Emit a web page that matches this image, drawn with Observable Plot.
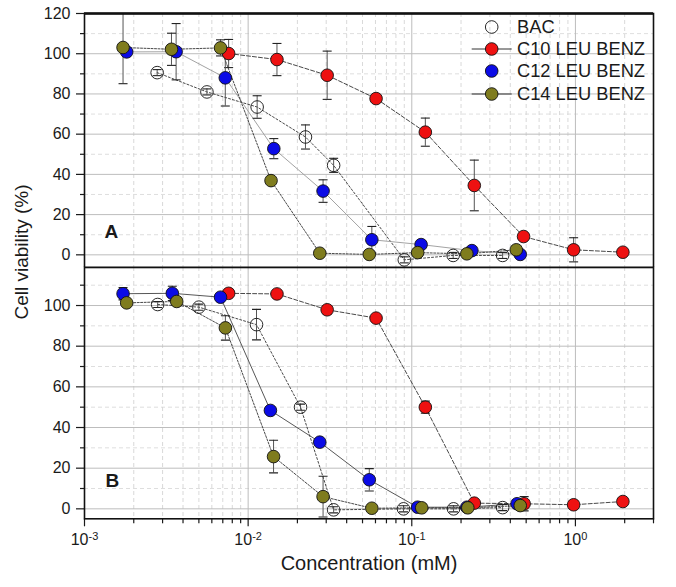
<!DOCTYPE html>
<html><head><meta charset="utf-8">
<script src="https://cdn.jsdelivr.net/npm/d3@7"></script>
<script src="https://cdn.jsdelivr.net/npm/@observablehq/plot@0.6"></script>
<style>
body{margin:0;background:#fff;font-family:"Liberation Sans",Arial,sans-serif;color:#1a1a1a}
#wrap{position:relative;width:676px;height:587px}
#wrap svg{display:block}
.ylab{position:absolute;left:21.7px;top:252px;transform:translate(-50%,-50%) rotate(-90deg);white-space:nowrap;font-size:19px}
.legend{position:absolute;left:462px;top:15.5px;font-size:18.3px}
.legend .row{display:flex;align-items:center;height:22.4px}
</style></head>
<body><div id="wrap"></div>
<script>
// ---------- data ----------
const seriesNames = ["BAC", "C10 LEU BENZ", "C12 LEU BENZ", "C14 LEU BENZ"];
const seriesFills = ["none", "#ee1111", "#0b0be6", "#7f7c1e"];
const seriesDash = ["2,2", "4,2", null, "2,1.5"];
const seriesLineColorA = ["#333", "#333", "#999", "#333"];
const seriesLineColorB = ["#333", "#333", "#444", "#333"];
const legendLine = [false, true, false, true];

// Panel A
const concA_BAC = [0.00278, 0.0056, 0.01135, 0.0224, 0.0333, 0.090, 0.179, 0.359];
const viabA_BAC = [90.6, 81, 73.5, 58.6, 44.5, -2.5, -0.3, -0.3];
const errA_BAC  = [1.5, 1.5, 5.6, 6, 3.5, 1.5, 1.5, 1.5];

const concA_C10 = [0.0076, 0.0150, 0.0304, 0.0605, 0.121, 0.241, 0.482, 0.975, 1.95];
const viabA_C10 = [100.1, 97.1, 89.3, 77.7, 61, 34.5, 9.1, 2.5, 1.3];
const errA_C10  = [7, 8, 12, 1, 7, 12.6, 1, 6, 1];

const concA_C12 = [0.00181, 0.00363, 0.00725, 0.01435, 0.0287, 0.057, 0.114, 0.233, 0.46];
const viabA_C12 = [100.9, 101, 88, 52.8, 31.7, 7.5, 5.1, 2.1, 0.2];
const errA_C12  = [2, 14, 14, 5, 5.6, 6.6, 1, 1, 1];

const concA_C14 = [0.00172, 0.0034, 0.00678, 0.0138, 0.0274, 0.055, 0.1086, 0.217, 0.435];
const viabA_C14 = [103.1, 102.2, 102.9, 36.9, 0.8, 0.2, 1.1, 0.5, 2.5];
const errA_C14  = [18, 8, 4, 1, 1, 1, 1, 1, 1.5];

// Panel B
const concB_BAC = [0.0028, 0.005, 0.01125, 0.0209, 0.0333, 0.089, 0.18, 0.359];
const viabB_BAC = [100.5, 99.2, 90.6, 50, -0.5, 0, 0, 0.6];
const errB_BAC  = [1.5, 1.5, 7.5, 1.5, 1.5, 1.5, 1.5, 1.5];

const concB_C10 = [0.0076, 0.0150, 0.0304, 0.0605, 0.121, 0.241, 0.486, 0.975, 1.95];
const viabB_C10 = [106, 105.7, 97.9, 93.8, 50, 2.8, 2.5, 2, 3.6];
const errB_C10  = [1, 1, 2, 1, 3, 1, 3.5, 1, 1];

const concB_C12 = [0.00172, 0.00344, 0.00678, 0.01368, 0.0274, 0.055, 0.1086, 0.217, 0.44];
const viabB_C12 = [105.8, 106, 104.1, 48.4, 32.8, 14.3, 0.8, 0.8, 2.5];
const errB_C12  = [3, 3.5, 1, 1, 1, 5.5, 1, 1, 1];

const concB_C14 = [0.00181, 0.00366, 0.00726, 0.0143, 0.0287, 0.057, 0.115, 0.22, 0.46];
const viabB_C14 = [101.3, 102, 89, 25.7, 6, 0.3, 0.5, 0.5, 1.6];
const errB_C14  = [1, 2, 6, 8, 10, 1, 1, 1, 1];

// axis ticks
const xDomain = [0.001, 3];
const xMajorTicks = [0.001, 0.01, 0.1, 1];
const xMinorMultipliers = [2, 3, 4, 5, 6, 7, 8, 9];
const yMajorTicksA = [0, 20, 40, 60, 80, 100, 120];
const yMinorTicksA = [10, 30, 50, 70, 90, 110];
const yMajorTicksB = [0, 20, 40, 60, 80, 100];
const yMinorTicksB = [10, 30, 50, 70, 90, 110];
const yDomainA = [-6.3, 120];
const yDomainB = [-4.9, 118.7];

// ---------- build ----------
const xMinorTicks = [];
for (const d of xMajorTicks) for (const m of xMinorMultipliers) { const v = d * m; if (v <= xDomain[1]) xMinorTicks.push(v); }

function rows(name, c, v, e) { return c.map((x, i) => ({s: name, c: x, v: v[i], e: e[i]})); }
const panelA = [
  rows(seriesNames[0], concA_BAC, viabA_BAC, errA_BAC),
  rows(seriesNames[1], concA_C10, viabA_C10, errA_C10),
  rows(seriesNames[2], concA_C12, viabA_C12, errA_C12),
  rows(seriesNames[3], concA_C14, viabA_C14, errA_C14)
];
const panelB = [
  rows(seriesNames[0], concB_BAC, viabB_BAC, errB_BAC),
  rows(seriesNames[1], concB_C10, viabB_C10, errB_C10),
  rows(seriesNames[2], concB_C12, viabB_C12, errB_C12),
  rows(seriesNames[3], concB_C14, viabB_C14, errB_C14)
];

const capSymbol = {draw(ctx) { ctx.moveTo(-4.5, 0); ctx.lineTo(4.5, 0); }};
const FONT = '"Liberation Sans", Arial, sans-serif';

function dataMarks(series, lineColors) {
  const marks = [];
  series.forEach((r, i) => marks.push(Plot.line(r, {x: "c", y: "v", stroke: lineColors[i], strokeWidth: 0.9, strokeDasharray: seriesDash[i] || undefined})));
  series.forEach((r) => {
    marks.push(Plot.ruleX(r, {x: "c", y1: d => d.v - d.e, y2: d => d.v + d.e, stroke: "#555", strokeWidth: 1, clip: true}));
    marks.push(Plot.dot(r, {x: "c", y: d => d.v + d.e, symbol: capSymbol, fill: "none", stroke: "#222", strokeWidth: 1.1, clip: true}));
    marks.push(Plot.dot(r, {x: "c", y: d => d.v - d.e, symbol: capSymbol, fill: "none", stroke: "#222", strokeWidth: 1.1, clip: true}));
  });
  series.forEach((r, i) => marks.push(Plot.dot(r, {x: "c", y: "v", r: 6.3, fill: seriesFills[i], stroke: "#111", strokeWidth: 0.9})));
  return marks;
}

function gridMarks(yMajor, yMinor) {
  return [
    Plot.gridX(xMinorTicks, {stroke: "#cfcfcf", strokeOpacity: 1, strokeWidth: 0.8, strokeDasharray: "4,3"}),
    Plot.gridY(yMinor, {stroke: "#d6d6d6", strokeOpacity: 1, strokeWidth: 0.8, strokeDasharray: "4,3"}),
    Plot.gridX(xMajorTicks, {stroke: "#bdbdbd", strokeOpacity: 1, strokeWidth: 1}),
    Plot.gridY(yMajor, {stroke: "#bdbdbd", strokeOpacity: 1, strokeWidth: 1})
  ];
}

const plotA = Plot.plot({
  width: 676, height: 267,
  marginTop: 13, marginBottom: 0, marginLeft: 84, marginRight: 23,
  style: {fontFamily: FONT, fontSize: "16px", color: "#1a1a1a", background: "transparent"},
  x: {type: "log", domain: xDomain, axis: null},
  y: {domain: yDomainA, axis: null},
  marks: [
    ...gridMarks(yMajorTicksA, yMinorTicksA),
    ...dataMarks(panelA, seriesLineColorA),
    Plot.axisY({ticks: yMajorTicksA, tickSize: 8, tickPadding: 6, tickFormat: d => d, label: null, strokeWidth: 1.2}),
    Plot.axisY({ticks: yMinorTicksA, tickSize: 4, tickFormat: () => "", label: null, strokeWidth: 1.2}),
    Plot.text(["A"], {frameAnchor: "bottom-left", lineAnchor: "middle", dx: 20, dy: -35.3, textAnchor: "start", fontWeight: "bold", fontSize: 19}),
    Plot.frame({stroke: "#111", strokeWidth: 1.6}),
    Plot.ruleY([yDomainA[1]], {stroke: "#111", strokeWidth: 2.4})
  ]
});

const plotB = Plot.plot({
  width: 676, height: 320,
  marginTop: 0, marginBottom: 68.7, marginLeft: 84, marginRight: 23,
  style: {fontFamily: FONT, fontSize: "16px", color: "#1a1a1a", background: "transparent", overflow: "visible"},
  x: {type: "log", domain: xDomain, axis: null},
  y: {domain: yDomainB, axis: null},
  marks: [
    ...gridMarks(yMajorTicksB, yMinorTicksB),
    ...dataMarks(panelB, seriesLineColorB),
    Plot.axisY({ticks: yMajorTicksB, tickSize: 8, tickPadding: 6, tickFormat: d => d, label: null, strokeWidth: 1.2}),
    Plot.axisY({ticks: yMinorTicksB, tickSize: 4, tickFormat: () => "", label: null, strokeWidth: 1.2}),
    Plot.axisX({ticks: xMajorTicks, tickSize: 8, tickPadding: 7, tickFormat: d => "10|" + Math.round(Math.log10(d)), label: null, strokeWidth: 1.2}),
    Plot.axisX({ticks: xMinorTicks, tickSize: 5, tickFormat: () => "", label: null, strokeWidth: 1.2}),
    Plot.text(["B"], {frameAnchor: "bottom-left", lineAnchor: "middle", dx: 21, dy: -38.3, textAnchor: "start", fontWeight: "bold", fontSize: 19}),
    Plot.text(["Concentration (mM)"], {frameAnchor: "bottom", lineAnchor: "middle", dy: 45, fontSize: 20}),
    Plot.frame({stroke: "#111", strokeWidth: 1.6})
  ]
});

// superscript exponents on x tick labels
d3.select(plotB).selectAll("text").each(function() {
  const t = this.textContent;
  if (t.includes("|")) {
    const [base, exp] = t.split("|");
    const sel = d3.select(this);
    sel.text(null);
    sel.append("tspan").text(base);
    sel.append("tspan").attr("dy", "-0.5em").attr("font-size", "11px").text(exp);
  }
});

const wrap = document.getElementById("wrap");
wrap.appendChild(plotA);
wrap.appendChild(plotB);

// y label spanning both panels
const yl = document.createElement("div");
yl.className = "ylab";
yl.textContent = "Cell viability (%)";
wrap.appendChild(yl);

// legend
const leg = document.createElement("div");
leg.className = "legend";
seriesNames.forEach((n, i) => {
  const row = document.createElement("div");
  row.className = "row";
  const ns = "http://www.w3.org/2000/svg";
  const s = document.createElementNS(ns, "svg");
  s.setAttribute("width", 55); s.setAttribute("height", 22);
  if (legendLine[i]) {
    const l = document.createElementNS(ns, "line");
    l.setAttribute("x1", 9.7); l.setAttribute("x2", 49.7); l.setAttribute("y1", 11); l.setAttribute("y2", 11);
    l.setAttribute("stroke", "#333"); l.setAttribute("stroke-width", 1);
    s.appendChild(l);
  }
  const c = document.createElementNS(ns, "circle");
  c.setAttribute("cx", 29.7); c.setAttribute("cy", 11); c.setAttribute("r", 6.3);
  c.setAttribute("fill", seriesFills[i]); c.setAttribute("stroke", "#111"); c.setAttribute("stroke-width", 0.9);
  s.appendChild(c);
  row.appendChild(s);
  const sp = document.createElement("span");
  sp.textContent = n;
  row.appendChild(sp);
  leg.appendChild(row);
});
wrap.appendChild(leg);
</script>
</body></html>
